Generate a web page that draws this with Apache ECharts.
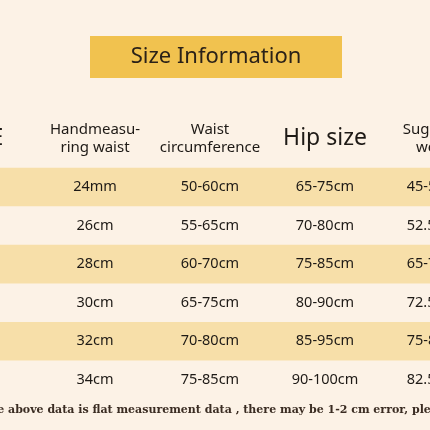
<!DOCTYPE html>
<html>
<head>
<meta charset="utf-8">
<script src="https://cdn.jsdelivr.net/npm/echarts@6/dist/echarts.min.js"></script>
<style>html,body{margin:0;padding:0;background:#fcf2e6}#main{width:430px;height:430px}</style>
</head>
<body>
<div id="main"></div>
<script>
// table content
var headers = ['SIZE', 'Handmeasu-\nring waist', 'Waist\ncircumference', 'Hip size', 'Suggested\nweight'];
var sizes = ['S', 'M', 'L', 'XL', '2XL', '3XL'];
var handWaist = ['24mm', '26cm', '28cm', '30cm', '32cm', '34cm'];
var waist = ['50-60cm', '55-65cm', '60-70cm', '65-75cm', '70-80cm', '75-85cm'];
var hip = ['65-75cm', '70-80cm', '75-85cm', '80-90cm', '85-95cm', '90-100cm'];
var weight = ['45-52.5kg', '52.5-65kg', '65-72.5kg', '72.5-75kg', '75-82.5kg', '82.5-90kg'];
var title = 'Size Information';
var note = 'The above data is flat measurement data , there may be 1-2 cm error, please understand.';

var chart = echarts.init(document.getElementById('main'));

var columns = [sizes, handWaist, waist, hip, weight];
var cells = [];
headers.forEach(function (h, c) {
  cells.push([c, -1.25, h, 1]);
});
columns.forEach(function (col, c) {
  col.forEach(function (v, r) {
    cells.push([c, r, v, 0]);
  });
});
var bands = [];
sizes.forEach(function (s, r) {
  if (r % 2 === 0) bands.push([r]);
});

var option = {
  backgroundColor: '#fcf2e6',
  grid: { left: 0, width: 430, top: 110, height: 289 },
  xAxis: { type: 'value', min: 20 / 115, max: 450 / 115, show: false },
  yAxis: { type: 'value', min: -2, max: 5.5, inverse: true, show: false },
  graphic: [
    { type: 'rect', shape: { x: 90, y: 36, width: 252, height: 42 }, style: { fill: '#f1c24f' } },
    { type: 'text', x: 216, y: 57, style: { text: title, fill: '#2a2118', font: '22px "Noto Sans"', align: 'center', verticalAlign: 'middle' } },
    { type: 'text', x: -19, y: 410, style: { text: note, fill: '#3a2c22', font: 'bold 11px "DejaVu Serif"', verticalAlign: 'middle' } }
  ],
  series: [{
    type: 'custom',
    data: bands,
    silent: true,
    clip: false,
    renderItem: function (params, api) {
      var top = api.coord([1, api.value(0) - 0.5]);
      var bot = api.coord([1, api.value(0) + 0.5]);
      return { type: 'rect', shape: { x: 0, y: top[1], width: api.getWidth(), height: bot[1] - top[1] }, style: { fill: '#f7dfa9' } };
    }
  }, {
    type: 'custom',
    data: cells,
    silent: true,
    clip: false,
    renderItem: function (params, api) {
      var p = api.coord([api.value(0), api.value(1)]);
      var item = cells[params.dataIndex];
      var big = item[3] && (item[0] === 0 || item[0] === 3);
      return {
        type: 'text', x: p[0], y: p[1],
        style: {
          text: item[2], fill: '#1e1a16', align: 'center', verticalAlign: 'middle',
          font: (big ? '23px' : (item[3] ? '15px' : '14.5px')) + ' "Noto Sans"', lineHeight: 18
        }
      };
    }
  }]
};
chart.setOption(option);
</script>
</body>
</html>
